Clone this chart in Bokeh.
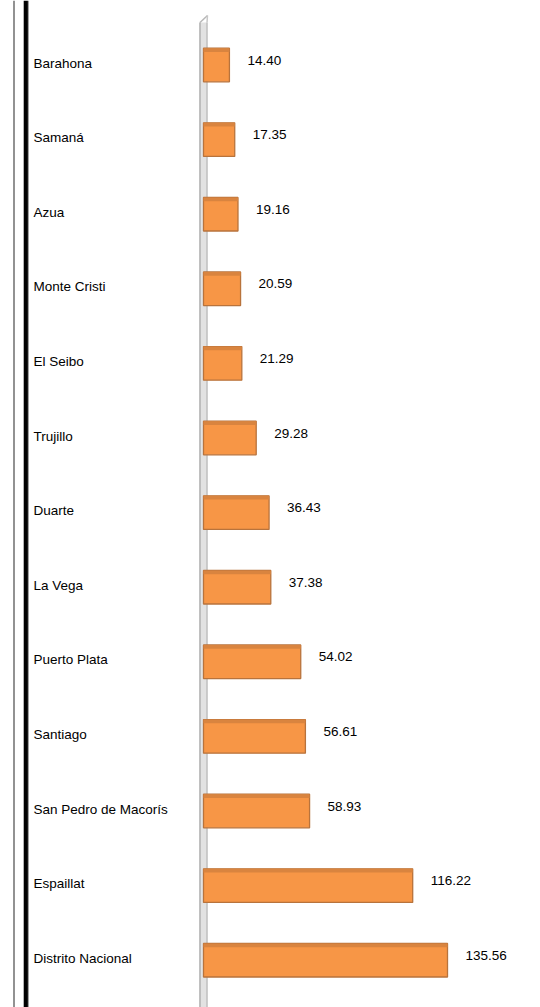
from bokeh.plotting import figure
from bokeh.models import Range1d, Span, ColumnDataSource
from bokeh.core.properties import value
from bokeh.embed import file_html
from bokeh.resources import INLINE

# ---- data ----
categories = ["Barahona", "Samaná", "Azua", "Monte Cristi", "El Seibo", "Trujillo",
              "Duarte", "La Vega", "Puerto Plata", "Santiago", "San Pedro de Macorís",
              "Espaillat", "Distrito Nacional"]
values = [14.40, 17.35, 19.16, 20.59, 21.29, 29.28, 36.43, 37.38, 54.02, 56.61,
          58.93, 116.22, 135.56]
value_labels = ["%.2f" % v for v in values]

# ---- layout constants ----
W, H = 540, 1007
SCALE = 1.8          # px per unit
ZERO_PX = 203        # screen x of value 0
ROW_PX = 74.6
FIRST_ROW_PX = 64.5

x_start = -ZERO_PX / SCALE
x_end = (W - ZERO_PX) / SCALE
y_top = -FIRST_ROW_PX / ROW_PX
y_bot = (H - FIRST_ROW_PX) / ROW_PX

def px_to_x(px):
    return x_start + px / SCALE

def px_to_y(py):
    return y_top + py / ROW_PX

BAR_H = 0.45
pos = list(range(len(categories)))
src = ColumnDataSource(dict(
    y=pos, v=values, lab=value_labels, cat=categories,
    ytop=[i - BAR_H / 2 + 0.025 for i in pos],
    cx=[px_to_x(33)] * len(categories),
))

p = figure(width=W, height=H, output_backend="svg", toolbar_location=None,
           x_range=Range1d(x_start, x_end), y_range=Range1d(y_bot, y_top),
           min_border=0, min_border_left=0, min_border_right=0,
           min_border_top=0, min_border_bottom=0)
p.axis.visible = False
p.grid.visible = False
p.outline_line_color = None
p.background_fill_color = "white"
p.border_fill_color = "white"

# page border lines on the left
p.add_layout(Span(location=px_to_x(13.5), dimension="height", line_color="#6e6e6e", line_width=1.5))
p.add_layout(Span(location=px_to_x(25.3), dimension="height", line_color="#000000", line_width=4.2))
p.add_layout(Span(location=px_to_x(28), dimension="height", line_color="#a0a0a0", line_width=1))

# axis wall (3D look)
wall_top = px_to_y(22)
p.segment(x0=[px_to_x(203)], y0=[wall_top], x1=[px_to_x(203)], y1=[y_bot],
          line_color="#e2e2e2", line_width=8)
p.segment(x0=[px_to_x(199.5)], y0=[wall_top], x1=[px_to_x(199.5)], y1=[y_bot],
          line_color="#b0b0b0", line_width=1.5)
p.segment(x0=[px_to_x(206.5)], y0=[wall_top], x1=[px_to_x(206.5)], y1=[y_bot],
          line_color="#b8b8b8", line_width=1.2)
# slanted top of the wall
p.segment(x0=[px_to_x(199.5)], y0=[wall_top], x1=[px_to_x(207)], y1=[px_to_y(15)],
          line_color="#b8b8b8", line_width=1.5)
p.segment(x0=[px_to_x(206.5)], y0=[wall_top], x1=[px_to_x(207)], y1=[px_to_y(15)],
          line_color="#c8c8c8", line_width=1.5)

# bars
p.hbar(y="y", left=0, right="v", height=BAR_H, source=src,
       fill_color="#F79646", line_color="#B8733C", line_width=1.3)
p.hbar(y="ytop", left=0, right="v", height=0.05, source=src,
       fill_color="#D9843F", line_color=None)

# value labels
p.text(x="v", y="y", text="lab", source=src, x_offset=18, y_offset=-5,
       text_font=value("Liberation Sans"), text_font_size="13.5px",
       text_color="#000000", text_baseline="middle", text_align="left")

# category labels
p.text(x="cx", y="y", text="cat", source=src, x_offset=0, y_offset=-2,
       text_font=value("Liberation Sans"), text_font_size="13.5px",
       text_color="#000000", text_baseline="middle", text_align="left")

open("out.html", "w").write(file_html(p, INLINE))
